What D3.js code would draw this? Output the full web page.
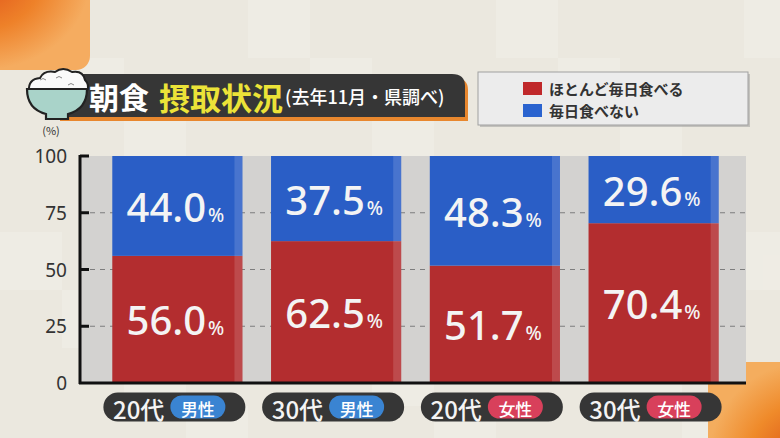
<!DOCTYPE html>
<html>
<head>
<meta charset="utf-8">
<script src="https://cdn.jsdelivr.net/npm/d3@7"></script>
<style>
  html, body { margin: 0; padding: 0; background: #ebe8e0; }
  svg { display: block; font-family: "Noto Sans CJK JP", "Noto Sans", sans-serif; }
</style>
</head>
<body>
<div id="chart"></div>
<script>
// data
var ages = ["20代", "30代", "20代", "30代"];
var genders = ["男性", "男性", "女性", "女性"];
var eatDaily = [56.0, 62.5, 51.7, 70.4];
var notDaily = [44.0, 37.5, 48.3, 29.6];
var yTicks = [0, 25, 50, 75, 100];
var legendLabels = ["ほとんど毎日食べる", "毎日食べない"];

var width = 780, height = 438;
var red = "#b32d2f", blue = "#2a5ec6";

var svg = d3.select("#chart").append("svg")
    .attr("width", width)
    .attr("height", height);

var defs = svg.append("defs");
var rg = defs.append("radialGradient").attr("id", "orangeTL")
    .attr("cx", 0).attr("cy", 0).attr("r", 1);
rg.append("stop").attr("offset", "0%").attr("stop-color", "#e0521a");
rg.append("stop").attr("offset", "55%").attr("stop-color", "#ee8129");
rg.append("stop").attr("offset", "100%").attr("stop-color", "#f5ac60");
var rg2 = defs.append("radialGradient").attr("id", "orangeBR")
    .attr("cx", 1).attr("cy", 1).attr("r", 1);
rg2.append("stop").attr("offset", "0%").attr("stop-color", "#d94a12");
rg2.append("stop").attr("offset", "60%").attr("stop-color", "#ef8a2a");
rg2.append("stop").attr("offset", "100%").attr("stop-color", "#f4ad5e");

// background
svg.append("rect").attr("width", width).attr("height", height).attr("fill", "#ebe8df");
// faint tiles
var tiles = svg.append("g").attr("opacity", 0.35);
for (var i = 0; i < 13; i++) {
  for (var j = 0; j < 8; j++) {
    if ((i + j * 3) % 4 == 0)
      tiles.append("rect").attr("x", i * 62).attr("y", j * 58).attr("width", 62).attr("height", 58).attr("fill", "#f6f4ee");
  }
}
// orange decorations
svg.append("rect").attr("x", -20).attr("y", -20).attr("width", 110).attr("height", 90)
    .attr("rx", 14).attr("fill", "url(#orangeTL)");
svg.append("rect").attr("x", 708).attr("y", 362).attr("width", 100).attr("height", 100)
    .attr("rx", 16).attr("fill", "url(#orangeBR)");

// scales
var plot = { left: 80, right: 746, top: 156, bottom: 383 };
var x = d3.scaleBand().domain(d3.range(ages.length))
    .range([98, 733]).paddingInner(0.18).paddingOuter(0.09);
var y = d3.scaleLinear().domain([0, 100]).range([plot.bottom, plot.top]);

// plot background
svg.append("rect").attr("x", plot.left).attr("y", plot.top)
    .attr("width", plot.right - plot.left).attr("height", plot.bottom - plot.top)
    .attr("fill", "#d3d2d0");

// dashed gridlines
svg.append("g").selectAll("line").data(yTicks.filter(function (d) { return d > 0 && d < 100; }))
  .enter().append("line")
    .attr("x1", plot.left).attr("x2", plot.right)
    .attr("y1", function (d) { return y(d); }).attr("y2", function (d) { return y(d); })
    .attr("stroke", "#7d7d7d").attr("stroke-width", 1.2).attr("stroke-dasharray", "5,5");

// bars
var bars = svg.append("g").selectAll("g").data(d3.range(ages.length)).enter().append("g");
bars.append("rect")
    .attr("x", function (i) { return x(i); })
    .attr("y", function (i) { return y(eatDaily[i]); })
    .attr("width", x.bandwidth())
    .attr("height", function (i) { return y(0) - y(eatDaily[i]); })
    .attr("fill", red);
bars.append("rect")
    .attr("x", function (i) { return x(i); })
    .attr("y", function (i) { return y(100); })
    .attr("width", x.bandwidth())
    .attr("height", function (i) { return y(eatDaily[i]) - y(100); })
    .attr("fill", blue);
// edge sheen
bars.append("rect")
    .attr("x", function (i) { return x(i) + x.bandwidth() - 8; })
    .attr("y", y(100))
    .attr("width", 8)
    .attr("height", y(0) - y(100))
    .attr("fill", "#ffffff").attr("opacity", 0.14);

function valueLabel(sel, vals, mid) {
  var t = sel.append("text")
      .attr("x", function (i) { return x(i) + x.bandwidth() / 2 - 2; })
      .attr("y", function (i) { return mid(i) + 15; })
      .attr("text-anchor", "middle")
      .attr("fill", "#f4f4f4")
      .style("font-family", "'Noto Sans', sans-serif")
      .style("font-weight", 500);
  t.append("tspan").style("font-size", "40px").text(function (i) { return vals[i].toFixed(1); });
  t.append("tspan").style("font-size", "19px").attr("dx", 2).text("%");
}
valueLabel(bars, notDaily, function (i) { return (y(100) + y(eatDaily[i])) / 2 + 1; });
valueLabel(bars, eatDaily, function (i) { return (y(eatDaily[i]) + y(0)) / 2 + 1; });

// y axis
var yAxis = svg.append("g");
yAxis.append("line").attr("x1", plot.left).attr("x2", plot.left)
    .attr("y1", plot.top - 1).attr("y2", plot.bottom + 1)
    .attr("stroke", "#111").attr("stroke-width", 3);
yAxis.selectAll(".tick").data(yTicks.filter(function (d) { return d > 0; })).enter().append("line")
    .attr("x1", plot.left).attr("x2", plot.left + 9)
    .attr("y1", function (d) { return y(d); }).attr("y2", function (d) { return y(d); })
    .attr("stroke", "#111").attr("stroke-width", 3);
yAxis.selectAll("text").data(yTicks).enter().append("text")
    .attr("x", 67).attr("y", function (d) { return y(d); })
    .attr("text-anchor", "end").attr("dominant-baseline", "central")
    .attr("fill", "#333").style("font-size", "19px")
    .style("font-family", "'Noto Sans', sans-serif")
    .text(function (d) { return d; });
svg.append("text").attr("x", 51).attr("y", 135).attr("text-anchor", "middle")
    .attr("fill", "#333").style("font-size", "11px").text("(%)");
// x axis baseline
svg.append("line").attr("x1", plot.left - 1).attr("x2", plot.right)
    .attr("y1", plot.bottom).attr("y2", plot.bottom)
    .attr("stroke", "#111").attr("stroke-width", 3);

// category pills
var pills = svg.append("g").selectAll("g").data(d3.range(ages.length)).enter().append("g")
    .attr("transform", function (i) { return "translate(" + (x(i) + x.bandwidth() / 2 - 3) + ",407)"; });
pills.append("rect").attr("x", -71).attr("y", -14.5).attr("width", 142).attr("height", 29)
    .attr("rx", 14.5).attr("fill", "#363636");
pills.append("text").attr("x", -10).attr("y", 1).attr("text-anchor", "end")
    .attr("dominant-baseline", "central").attr("fill", "#f4f4f4")
    .style("font-size", "24px").style("font-weight", 500)
    .text(function (i) { return ages[i]; });
pills.append("rect").attr("x", -4).attr("y", -11.5).attr("width", 55).attr("height", 23)
    .attr("rx", 11.5).attr("fill", function (i) { return genders[i] == "男性" ? "#3a84d2" : "#d8405b"; });
pills.append("text").attr("x", 23.5).attr("y", 1).attr("text-anchor", "middle")
    .attr("dominant-baseline", "central").attr("fill", "#fff")
    .style("font-size", "17px").style("font-weight", 500)
    .text(function (i) { return genders[i]; });

// title banner
var title = svg.append("g");
title.append("path")
    .attr("d", "M60,78 H455 Q468,78 468,90 V121 H60 Z")
    .attr("fill", "#e8872e");
title.append("path")
    .attr("d", "M60,74 H452 Q465,74 465,86 V117 H60 Z")
    .attr("fill", "#363636");
var tt = title.append("text").attr("x", 89).attr("y", 96).attr("dominant-baseline", "central")
    .style("font-weight", 700);
tt.append("tspan").attr("fill", "#fff").style("font-size", "30px").text("朝食");
tt.append("tspan").attr("fill", "#ece338").attr("dx", 10).style("font-size", "31px").text("摂取状況");
tt.append("tspan").attr("fill", "#fff").attr("dx", 2).style("font-size", "18px").style("font-weight", 500).text("(去年11月・県調べ)");

// rice bowl icon
var bowl = svg.append("g");
bowl.append("path")
    .attr("d", "M29,91 Q28,79 40,78 Q44,70 55,72 Q63,66 72,72 Q83,70 85,80 Q90,85 87,91 Z")
    .attr("fill", "#fafafa").attr("stroke", "#222").attr("stroke-width", 2);
bowl.append("path")
    .attr("d", "M27,89 H87 Q87,109 68,114 V119 H46 V114 Q27,109 27,89 Z")
    .attr("fill", "#a9d3c9").attr("stroke", "#222").attr("stroke-width", 2.2);
bowl.append("path").attr("d", "M40,80 q3,-3 6,0 M56,78 q3,-3 6,0 M68,85 q3,-3 6,0")
    .attr("fill", "none").attr("stroke", "#888").attr("stroke-width", 1);

// legend
var legend = svg.append("g");
legend.append("rect").attr("x", 480).attr("y", 74).attr("width", 270).attr("height", 53)
    .attr("fill", "#9a9a9a").attr("opacity", 0.5);
legend.append("rect").attr("x", 478).attr("y", 72).attr("width", 270).attr("height", 53)
    .attr("fill", "#ececec").attr("stroke", "#a0a0a0").attr("stroke-width", 1);
var li = legend.selectAll("g").data(legendLabels).enter().append("g")
    .attr("transform", function (d, i) { return "translate(523," + (88.5 + i * 22) + ")"; });
li.append("rect").attr("x", 0).attr("y", -6.5).attr("width", 19).attr("height", 13)
    .attr("fill", function (d, i) { return i == 0 ? "#c0282a" : "#2a63cf"; });
li.append("text").attr("x", 26).attr("y", 0).attr("dominant-baseline", "central")
    .attr("fill", "#333").style("font-size", "15px").style("font-weight", 700)
    .text(function (d) { return d; });
</script>
</body>
</html>
